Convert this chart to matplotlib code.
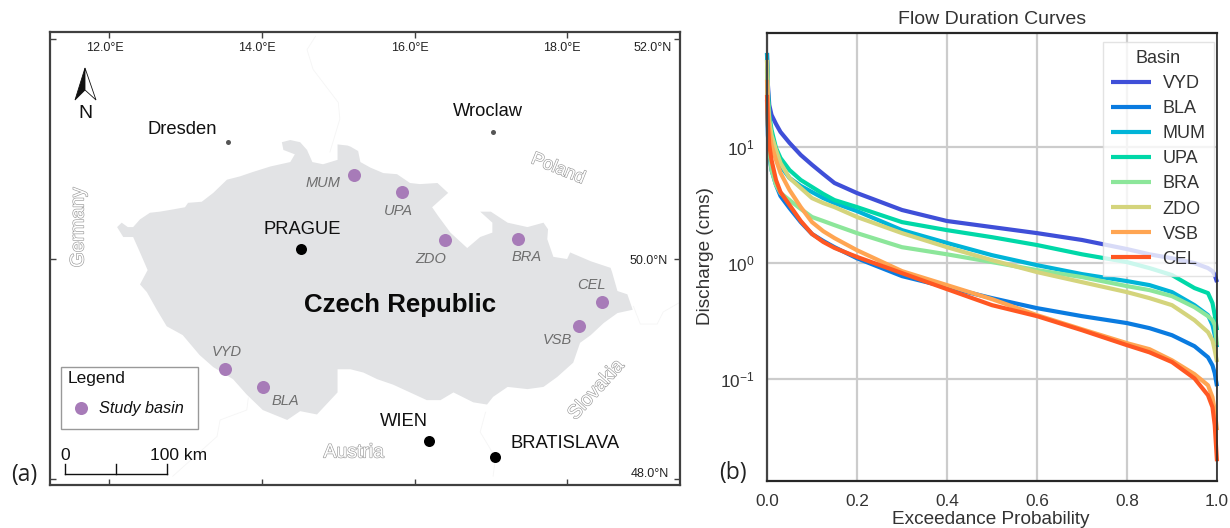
import numpy as np
import matplotlib
matplotlib.use("Agg")
import matplotlib.pyplot as plt
import matplotlib.patheffects as pe
from matplotlib.patches import Polygon, Rectangle
from matplotlib.lines import Line2D

plt.rcParams['font.family'] = ['Liberation Sans', 'DejaVu Sans']
plt.rcParams['mathtext.default'] = 'regular'

W, H = 1230, 528

# ---- map data (lon / lat)
border_lon = [12.10, 12.16, 12.24, 12.31, 12.40, 12.53, 12.66, 12.83, 12.99, 13.03, 13.21, 13.36, 13.54, 13.71,
              13.88, 14.11, 14.37, 14.43, 14.28, 14.26, 14.37, 14.50, 14.59, 14.66, 14.80, 14.99, 14.99, 15.12,
              15.16, 15.26, 15.29, 15.42, 15.59, 15.77, 15.94, 16.07, 16.30, 16.44, 16.23, 16.31, 16.47, 16.69,
              16.86, 17.02, 17.02, 16.86, 17.00, 17.22, 17.48, 17.69, 17.75, 17.74, 17.82, 18.00, 18.04, 18.31,
              18.57, 18.59, 18.66, 18.79, 18.86, 18.66, 18.48, 18.31, 18.17, 18.08, 17.87, 17.69, 17.48, 17.22,
              17.03, 16.95, 16.77, 16.51, 16.34, 16.16, 15.94, 15.72, 15.51, 15.33, 15.16, 14.99, 14.99, 14.72,
              14.50, 14.33, 14.01, 13.80, 13.62, 13.36, 13.18, 12.96, 12.75, 12.62, 12.49, 12.40, 12.50, 12.40,
              12.31, 12.18]
border_lat = [50.29, 50.33, 50.29, 50.29, 50.36, 50.42, 50.43, 50.45, 50.47, 50.51, 50.52, 50.60, 50.72, 50.75,
              50.79, 50.84, 50.88, 50.95, 50.99, 51.06, 51.08, 51.06, 50.99, 50.88, 50.86, 50.90, 51.04, 51.03,
              51.02, 50.98, 50.88, 50.83, 50.78, 50.77, 50.69, 50.68, 50.69, 50.60, 50.47, 50.39, 50.24, 50.10,
              50.20, 50.24, 50.33, 50.43, 50.43, 50.33, 50.29, 50.33, 50.27, 50.18, 50.02, 50.00, 50.06, 49.98,
              49.92, 49.88, 49.71, 49.68, 49.54, 49.51, 49.42, 49.31, 49.24, 49.06, 48.93, 48.84, 48.82, 48.84,
              48.75, 48.68, 48.70, 48.79, 48.72, 48.72, 48.79, 48.86, 48.91, 48.97, 49.00, 49.00, 48.79, 48.59,
              48.62, 48.54, 48.63, 48.77, 48.91, 49.02, 49.13, 49.31, 49.39, 49.54, 49.70, 49.77, 49.90, 50.06,
              50.20, 50.20]

neighbour_lines = [
    ([14.70, 14.59, 14.67, 15.00, 15.02, 14.89], [52.02, 51.90, 51.72, 51.42, 51.27, 50.97]),
    ([13.82, 13.80, 13.45, 13.41, 12.83], [48.74, 48.63, 48.54, 48.39, 48.03]),
    ([18.87, 18.96, 19.18, 19.26, 19.46], [49.57, 49.41, 49.41, 49.52, 49.60]),
    ([16.93, 16.86, 17.06, 17.03], [48.61, 48.43, 48.20, 48.03]),
]

station_names = ['MUM', 'UPA', 'ZDO', 'BRA', 'CEL', 'VSB', 'VYD', 'BLA']
station_lon = [15.21, 15.84, 16.40, 17.35, 18.46, 18.16, 13.52, 14.01]
station_lat = [50.76, 50.61, 50.17, 50.18, 49.61, 49.39, 49.00, 48.84]

capital_lon = [14.51, 16.19, 17.06]
capital_lat = [50.09, 48.35, 48.20]
town_lon = [13.56, 17.03]
town_lat = [51.06, 51.15]

lon_ticks = [12, 14, 16, 18]
lat_ticks = [48, 50, 52]

# ---- flow duration curves
exceedance = [0, .002, .005, .01, .02, .03, .05, .075, .1, .125, .15, .2, .3, .4, .5, .6, .7, .8, .85, .9, .95, .98, .99, .995, 1]
VYD = [64, 34, 22.9, 18.8, 15.7, 13.4, 10.8, 8.5, 7.0, 5.83, 4.88, 4.0, 2.86, 2.30, 2.04, 1.81, 1.58, 1.32, 1.19, 1.10, 1.0, .906, .853, .789, .686]
BLA = [25.3, 12.6, 8.5, 6.31, 4.69, 3.77, 2.97, 2.25, 1.78, 1.55, 1.37, 1.10, .773, .621, .5, .41, .35, .305, .276, .24, .193, .155, .132, .113, .0874]
MUM = [64, 25.3, 15.4, 11.4, 8.5, 6.84, 5.39, 4.6, 4.08, 3.62, 3.28, 2.80, 1.92, 1.49, 1.17, .96, .804, .70, .647, .563, .435, .357, .293, .24, .189]
UPA = [55.8, 30.8, 18.8, 14.0, 9.76, 8.0, 6.31, 5.18, 4.51, 3.93, 3.48, 3.03, 2.25, 1.92, 1.67, 1.43, 1.19, 1.02, .906, .789, .61, .552, .453, .357, .265]
BRA = [45.8, 15.4, 9.38, 6.31, 4.69, 4.0, 3.48, 2.92, 2.49, 2.30, 2.12, 1.81, 1.37, 1.19, 1.02, .871, .758, .634, .586, .52, .418, .35, .323, .293, .197]
ZDO = [55.8, 25.3, 17.0, 12.6, 9.38, 7.25, 5.39, 4.42, 3.62, 3.28, 3.03, 2.49, 1.81, 1.37, 1.06, .837, .686, .563, .5, .435, .323, .255, .217, .178, .141]
VSB = [37.6, 20.7, 14.0, 10.4, 7.7, 5.95, 4.25, 3.03, 2.25, 1.88, 1.64, 1.29, .853, .647, .49, .357, .27, .205, .182, .146, .111, .0891, .0703, .0543, .0366]
CEL = [27.9, 15.4, 10.4, 7.7, 5.18, 4.08, 3.16, 2.30, 1.78, 1.52, 1.35, 1.13, .82, .597, .435, .35, .265, .197, .171, .141, .102, .0731, .0577, .0404, .0198]

basins = ['VYD', 'BLA', 'MUM', 'UPA', 'BRA', 'ZDO', 'VSB', 'CEL']
flows = [VYD, BLA, MUM, UPA, BRA, ZDO, VSB, CEL]
colors = ['#3F4FD8', '#0A7BE0', '#00B4D8', '#00D8A8', '#8CE69A', '#D4D47C', '#FFA552', '#FF5722']


def fx(x):
    return x / W


def fy(y):
    return 1 - y / H


def label(x, y, s, **kw):
    kw.setdefault('ha', 'center')
    kw.setdefault('va', 'center')
    return fig.text(fx(x), fy(y), s, **kw)


fig = plt.figure(figsize=(12.3, 5.28), dpi=100)

#==============================================================================
# (a) map
ax = fig.add_axes([fx(50), fy(485), 630 / W, 453 / H])
ax.set_xlim(11.22, 19.48)
ax.set_ylim(47.95, 52.06)
ax.fill(border_lon, border_lat, color='#E2E3E5', lw=0)
for xs, ys in neighbour_lines:
    ax.plot(xs, ys, color='#F5F5F5', lw=0.6)
ax.scatter(station_lon, station_lat, s=88, color='#A77BB8', lw=0, zorder=3)
ax.scatter(capital_lon, capital_lat, s=63, color='black', lw=0, zorder=3)
ax.scatter(town_lon, town_lat, s=13, color='#555555', lw=0, zorder=3)

ax.set_xticks(lon_ticks)
ax.set_yticks(lat_ticks)
ax.tick_params(direction='in', length=4, width=1, color='#404040', top=True, right=True,
               labelbottom=False, labelleft=False)
for s in ax.spines.values():
    s.set_color('#404040')
    s.set_linewidth(1.6)

for lon, xpx in zip(lon_ticks, [104.5, 257, 409.5, 562]):
    label(xpx, 48, '%.1f°E' % lon, fontsize=9, color='#222222')
for lat, xpx, ypx in zip(lat_ticks, [669, 668, 672], [474, 261, 48]):
    label(xpx, ypx, '%.1f°N' % lat, fontsize=9, color='#222222', ha='right')

for name, xpx, ypx in zip(station_names, [323, 398, 431, 527, 591, 557, 227, 285],
                          [183, 211, 259, 257, 285, 340, 352, 401]):
    label(xpx, ypx, name, fontsize=10.5, style='italic', color='#6E6E6E')

label(182, 129, 'Dresden', fontsize=13.2, color='#111111')
label(488, 112, 'Wroclaw', fontsize=13.2, color='#111111')
label(302, 229, 'PRAGUE', fontsize=13.2, color='#111111')
label(404, 422, 'WIEN', fontsize=13.2, color='#111111')
label(565, 444, 'BRATISLAVA', fontsize=13.2, color='#111111')
label(400, 305, 'Czech Republic', fontsize=18.6, weight='bold', color='#0A0A0A')

outline = [pe.Stroke(linewidth=0.9, foreground='#9A9A9A'), pe.Normal()]
for s, xpx, ypx, rot, fs in [('Germany', 79, 227, 90, 14), ('Poland', 558, 169, -22, 13),
                             ('Slovakia', 597, 390, 48, 14), ('Austria', 354, 453, 0, 14)]:
    label(xpx, ypx, s, fontsize=fs, rotation=rot, color='white', path_effects=outline,
          rotation_mode='anchor')

# north arrow
fig.add_artist(Polygon([(fx(85), fy(68)), (fx(75), fy(100)), (fx(85), fy(90))], closed=True,
                       transform=fig.transFigure, fc='#111111', ec='#111111', lw=0.6))
fig.add_artist(Polygon([(fx(85), fy(68)), (fx(96), fy(100)), (fx(85), fy(90))], closed=True,
                       transform=fig.transFigure, fc='white', ec='#111111', lw=0.6))
label(85, 113, 'N', fontsize=14, color='#111111')

# legend box
fig.add_artist(Rectangle((fx(60.5), fy(429)), 137 / W, 62 / H, transform=fig.transFigure,
                         fc='white', ec='#999999', lw=1))
label(68, 379, 'Legend', fontsize=12.5, ha='left', color='#111111')
fig.add_artist(Line2D([fx(81)], [fy(408)], marker='o', ms=9.4, color='#A77BB8', mew=0,
                      transform=fig.transFigure))
label(99, 409, 'Study basin', fontsize=11.7, ha='left', style='italic', color='#111111')

# scale bar
for xs, ys in [([64.5, 166.5], [474, 474]), ([64.5, 64.5], [464, 474]),
               ([115.5, 115.5], [464, 474]), ([166.5, 166.5], [464, 474])]:
    fig.add_artist(Line2D([fx(v) for v in xs], [fy(v) for v in ys], color='#111111', lw=1,
                          transform=fig.transFigure))
label(65, 455, '0', fontsize=12.5, color='#111111')
label(150, 455, '100 km', fontsize=12.5, ha='left', color='#111111')

label(24, 475, '(a)', fontsize=16.5, family='Open Sans', color='#222222')

#==============================================================================
# (b) flow duration curves
ax2 = fig.add_axes([fx(767), fy(481), 450 / W, 448 / H])
for name, q, c in zip(basins, flows, colors):
    ax2.plot(exceedance, q, color=c, lw=3, label=name, clip_on=False, solid_capstyle='butt')
ax2.set_yscale('log')
ax2.set_xlim(0, 1)
ax2.set_ylim(0.0134, 95)
ax2.set_xticks([0, .2, .4, .6, .8, 1])
ax2.set_xticklabels(['0.0', '0.2', '0.4', '0.6', '0.8', '1.0'])
ax2.set_yticks([0.1, 1, 10])
ax2.minorticks_off()
ax2.grid(True, color='#CCCCCC', lw=1.6)
ax2.set_axisbelow(True)
ax2.tick_params(length=0, labelsize=12.4, labelcolor='#333333', pad=9)
for s in ax2.spines.values():
    s.set_color('#262626')
    s.set_linewidth(1.6)
ax2.spines['left'].set_color('#444444')
ax2.spines['right'].set_linewidth(1.2)

leg = ax2.legend(title='Basin', loc='upper left', bbox_to_anchor=(336 / 450, 1 - 9 / 448), fontsize=13,
                 title_fontsize=13, labelspacing=0.447, handlelength=2.2, handletextpad=0.65,
                 borderaxespad=0, borderpad=0.45, framealpha=0.8, edgecolor='#DDDDDD', fancybox=False)
for t in leg.get_texts() + [leg.get_title()]:
    t.set_color('#333333')

label(992, 20, 'Flow Duration Curves', fontsize=14, color='#333333')
label(991, 519, 'Exceedance Probability', fontsize=13.7, color='#333333')
label(706, 256, 'Discharge (cms)', fontsize=13.7, rotation=90, color='#333333')
label(733, 473, '(b)', fontsize=16.5, family='Open Sans', color='#222222')

fig.savefig('out.png', dpi=100)
